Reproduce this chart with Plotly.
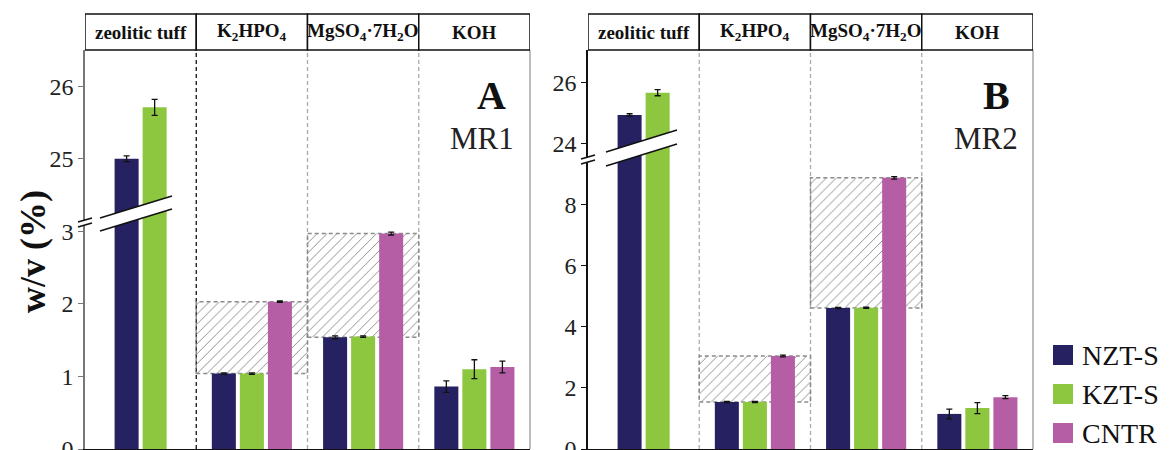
import plotly.graph_objects as go

# ---------------- data ----------------
categories = ["zeolitic tuff", "K<sub>2</sub>HPO<sub>4</sub>",
              "MgSO<sub>4</sub>·7H<sub>2</sub>O", "KOH"]
# categories where the NZT-S..CNTR band is hatched
hatched = [False, True, True, False]
series_names = ["NZT-S", "KZT-S", "CNTR"]
series_colors = ["#262262", "#8dc63f", "#b55ea6"]

# MR1 (panel A)
nzt_mr1 = [25.00, 1.04, 1.54, 0.86]
nzt_mr1_err = [0.04, 0.01, 0.02, 0.08]
kzt_mr1 = [25.71, 1.04, 1.55, 1.10]
kzt_mr1_err = [0.11, 0.01, 0.01, 0.13]
cntr_mr1 = [None, 2.03, 2.97, 1.13]
cntr_mr1_err = [None, 0.01, 0.02, 0.08]

# MR2 (panel B)
nzt_mr2 = [24.95, 1.54, 4.62, 1.15]
nzt_mr2_err = [0.04, 0.02, 0.02, 0.16]
kzt_mr2 = [25.68, 1.54, 4.63, 1.34]
kzt_mr2_err = [0.10, 0.02, 0.02, 0.18]
cntr_mr2 = [None, 3.05, 8.89, 1.70]
cntr_mr2_err = [None, 0.03, 0.04, 0.05]

# axis ticks (real values) for each panel
ticks_mr1 = [0, 1, 2, 3, 25, 26]
ticks_mr2 = [0, 2, 4, 6, 8, 24, 26]

# ---------------- geometry helpers ----------------
W, H = 1169, 450
FONT = "Liberation Serif, 'Times New Roman', Times, serif"


def px(x):
    return x / W


def py(y):
    return 1 - y / H


# broken-axis transforms: values above the break are shifted down
BREAK = {"A": (5, 21), "B": (12, 14)}


def tf(panel, v):
    if v is None:
        return None
    lim, off = BREAK[panel]
    return v - off if v >= lim else v


BAR_W = 0.216
PITCH = 0.252

fig = go.Figure()

panels = [
    ("A", "x", "y", [nzt_mr1, kzt_mr1, cntr_mr1],
     [nzt_mr1_err, kzt_mr1_err, cntr_mr1_err]),
    ("B", "x2", "y2", [nzt_mr2, kzt_mr2, cntr_mr2],
     [nzt_mr2_err, kzt_mr2_err, cntr_mr2_err]),
]

for panel, xa, ya, vals, errs in panels:
    nz, kz, cn = vals
    # hatched region between NZT-S and CNTR
    hx = [i for i in range(len(categories)) if hatched[i] and cn[i] is not None]
    fig.add_trace(go.Bar(
        x=hx, base=[nz[i] for i in hx], y=[cn[i] - nz[i] for i in hx],
        width=1.0, offset=-0.5, xaxis=xa, yaxis=ya, showlegend=False,
        marker=dict(color="#888888", line=dict(width=0),
                    pattern=dict(shape="/", fgcolor="#8f8f8f", size=7,
                                 solidity=0.14, fillmode="replace")),
        hoverinfo="skip"))
    for i in hx:
        fig.add_shape(type="rect", xref=xa, yref=ya, x0=i - 0.5, x1=i + 0.5,
                      y0=nz[i], y1=cn[i], layer="below",
                      line=dict(color="#8a8a8a", width=1.5, dash="4px,3px"))
    # bar offsets: bars centred in each category
    present = [[s[i] is not None for s in vals] for i in range(len(categories))]
    for j, (name, color) in enumerate(zip(series_names, series_colors)):
        offsets = []
        for i in range(len(categories)):
            n = sum(present[i])
            slot = sum(present[i][:j])
            center = (slot - (n - 1) / 2) * PITCH
            offsets.append(center - BAR_W / 2)
        fig.add_trace(go.Bar(
            x=list(range(len(categories))),
            y=[tf(panel, v) for v in vals[j]],
            width=BAR_W, offset=offsets, xaxis=xa, yaxis=ya,
            name=name, showlegend=False,
            marker=dict(color=color, line=dict(width=0)),
            error_y=dict(type="data", array=errs[j], visible=True,
                         color="#111111", thickness=1.3, width=3)))

# ---------------- axes ----------------
tickfont = dict(family=FONT, size=24, color="#222222")
fig.update_layout(
    width=W, height=H, margin=dict(l=0, r=0, t=0, b=0, autoexpand=False),
    paper_bgcolor="white", plot_bgcolor="white", barmode="overlay",
    font=dict(family=FONT), showlegend=False,
    xaxis=dict(domain=[px(85), px(530)], range=[-0.5, 3.5], showticklabels=False,
               ticks="", showgrid=False, zeroline=False, showline=True,
               linecolor="#111111", linewidth=1.5, anchor="y", automargin=False),
    xaxis2=dict(domain=[px(588), px(1033)], range=[-0.5, 3.5], showticklabels=False,
                ticks="", showgrid=False, zeroline=False, showline=True,
                linecolor="#111111", linewidth=1.5, anchor="y2", automargin=False),
    yaxis=dict(domain=[1 / H, py(50)], range=[0, 5.50], anchor="x",
               tickvals=[tf("A", t) for t in ticks_mr1],
               ticktext=[str(t) for t in ticks_mr1],
               ticks="outside", ticklen=5, tickcolor="#777777",
               showline=True, linecolor="#777777", linewidth=1.5,
               showgrid=False, zeroline=False, tickfont=tickfont,
               ticklabeloverflow="allow", automargin=False),
    yaxis2=dict(domain=[1 / H, py(50)], range=[0, 13.08], anchor="x2",
                tickvals=[tf("B", t) for t in ticks_mr2],
                ticktext=[str(t) for t in ticks_mr2],
                ticks="outside", ticklen=5, tickcolor="#111111",
                showline=True, linecolor="#111111", linewidth=1.5,
                showgrid=False, zeroline=False, tickfont=tickfont,
                ticklabeloverflow="allow", automargin=False),
)

# ---------------- legend (drawn as shapes + text) ----------------
for k, (name, color) in enumerate(zip(series_names, series_colors)):
    cy = 355 + 39 * k
    fig.add_shape(type="rect", xref="paper", yref="paper",
                  x0=px(1053), x1=px(1073), y0=py(cy + 10), y1=py(cy - 10),
                  fillcolor=color, line=dict(width=0))
    fig.add_annotation(x=px(1080), y=py(cy), xref="paper", yref="paper", text=name,
                       showarrow=False, xanchor="left", yanchor="middle",
                       font=dict(family=FONT, size=28, color="#111111"))

# ---------------- decorations ----------------
for xa, divcolors, right_px in [("x", ["#111111", "#aaaaaa", "#aaaaaa"], 530),
                                ("x2", ["#aaaaaa", "#aaaaaa", "#aaaaaa"], 1033)]:
    for k, c in enumerate(divcolors):
        fig.add_shape(type="line", xref=xa, yref="paper", x0=k + 0.5, x1=k + 0.5,
                      y0=1 / H, y1=py(50), layer="below",
                      line=dict(color=c, width=1.3, dash="4px,3px"))
    # right border
    fig.add_shape(type="line", xref="paper", yref="paper", x0=px(right_px),
                  x1=px(right_px), y0=1 / H, y1=py(50),
                  line=dict(color="#999999", width=1.3))
    # header boxes
    for i, cat in enumerate(categories):
        fig.add_shape(type="rect", xref=xa, yref="paper", x0=i - 0.5, x1=i + 0.5,
                      y0=py(50), y1=py(14), line=dict(color="#111111", width=1.5),
                      fillcolor="white")
        fig.add_annotation(x=i, y=py(32), xref=xa, yref="paper", text=cat,
                           showarrow=False, xanchor="center", yanchor="middle",
                           font=dict(family=FONT, size=19, color="#111111",
                                     weight="bold"))

# panel letters / labels
for cx, letter, lab in [(508, "A", "MR1"), (1012, "B", "MR2")]:
    fig.add_annotation(x=px(cx), y=py(95), xref="paper", yref="paper", text=letter,
                       showarrow=False, xanchor="right", yanchor="middle",
                       font=dict(family=FONT, size=40, color="#111111", weight="bold"))
    fig.add_annotation(x=px(cx + 8), y=py(138), xref="paper", yref="paper", text=lab,
                       showarrow=False, xanchor="right", yanchor="middle",
                       font=dict(family=FONT, size=31, color="#222222"))

# y-axis title
fig.add_annotation(x=px(33), y=py(252), xref="paper", yref="paper", text="w/v (%)",
                   showarrow=False, textangle=-90, xanchor="center", yanchor="middle",
                   font=dict(family=FONT, size=36, color="#111111", weight="bold"))


# axis-break marks
def poly(points):
    p = "M " + " L ".join(f"{px(a)},{py(b)}" for a, b in points) + " Z"
    return p


def seg(x0, y0, x1, y1, color="#111111", w=1.5):
    fig.add_shape(type="line", xref="paper", yref="paper", x0=px(x0), y0=py(y0),
                  x1=px(x1), y1=py(y1), line=dict(color=color, width=w))


for (bx0, by0, bx1, by1, gap), (ax, ay) in [((100, 231, 172, 209, 13), (85, 222)),
                                              ((606, 166, 677, 144, 14), (588, 159))]:
    fig.add_shape(type="path", xref="paper", yref="paper",
                  path=poly([(bx0, by0), (bx1, by1), (bx1, by1 - gap), (bx0, by0 - gap)]),
                  fillcolor="white", line=dict(width=0))
    seg(bx0, by0, bx1, by1)
    seg(bx0, by0 - gap, bx1, by1 - gap)
    # slashes on the y axis
    fig.add_shape(type="path", xref="paper", yref="paper",
                  path=poly([(ax - 7, ay + 5), (ax + 7, ay + 1), (ax + 7, ay - 4), (ax - 7, ay)]),
                  fillcolor="white", line=dict(width=0))
    seg(ax - 7, ay + 5, ax + 7, ay + 1, w=1.6)
    seg(ax - 7, ay, ax + 7, ay - 4, w=1.6)

fig.write_html("out.html")
